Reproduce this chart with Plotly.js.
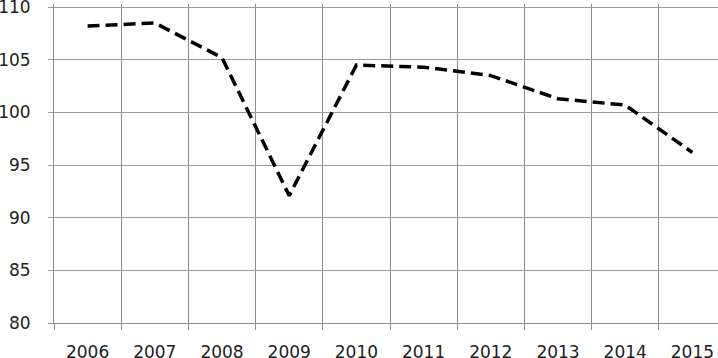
<!DOCTYPE html>
<html><head><meta charset="utf-8">
<script src="https://cdn.plot.ly/plotly-3.0.1.min.js"></script>
<style>html,body{margin:0;padding:0;overflow:hidden;background:#fff;width:718px;height:358px}#chart{width:726px;height:358px}</style>
</head><body><div id="chart"></div>
<script>
const years = ["2006","2007","2008","2009","2010","2011","2012","2013","2014","2015"];
const values = [108.2, 108.5, 105.2, 92.1, 104.5, 104.3, 103.5, 101.3, 100.7, 96.2];
const yTicks = [80, 85, 90, 95, 100, 105, 110];

Plotly.newPlot('chart', [{
  type: 'scatter', mode: 'lines', x: years, y: values,
  line: {color: '#000', width: 3.5, dash: '12px,6px'},
  hoverinfo: 'none'
}], {
  width: 726, height: 358,
  margin: {l: 54, r: 0, t: 4, b: 35},
  paper_bgcolor: '#fff', plot_bgcolor: '#fff',
  showlegend: false,
  font: {family: 'DejaVu Sans, Verdana, sans-serif', size: 17, color: '#222'},
  xaxis: {
    type: 'category', tickson: 'boundaries', range: [-0.5, 9.5],
    showgrid: true, gridcolor: '#8c8c8c', gridwidth: 1,
    showline: true, linecolor: '#8c8c8c', linewidth: 1,
    ticks: 'outside', ticklen: 6, tickcolor: '#8c8c8c',
    ticklabelstandoff: 14, ticklabeloverflow: 'allow',
    zeroline: false, fixedrange: true
  },
  yaxis: {
    range: [80, 110.3], tickvals: yTicks,
    showgrid: true, gridcolor: '#9a9a9a', gridwidth: 1,
    showline: true, linecolor: '#8c8c8c', linewidth: 1,
    ticks: 'outside', ticklen: 5, tickcolor: '#9a9a9a',
    ticklabelstandoff: 14, ticklabeloverflow: 'allow',
    zeroline: false, fixedrange: true
  }
}, {displayModeBar: false, staticPlot: true});
</script></body></html>
